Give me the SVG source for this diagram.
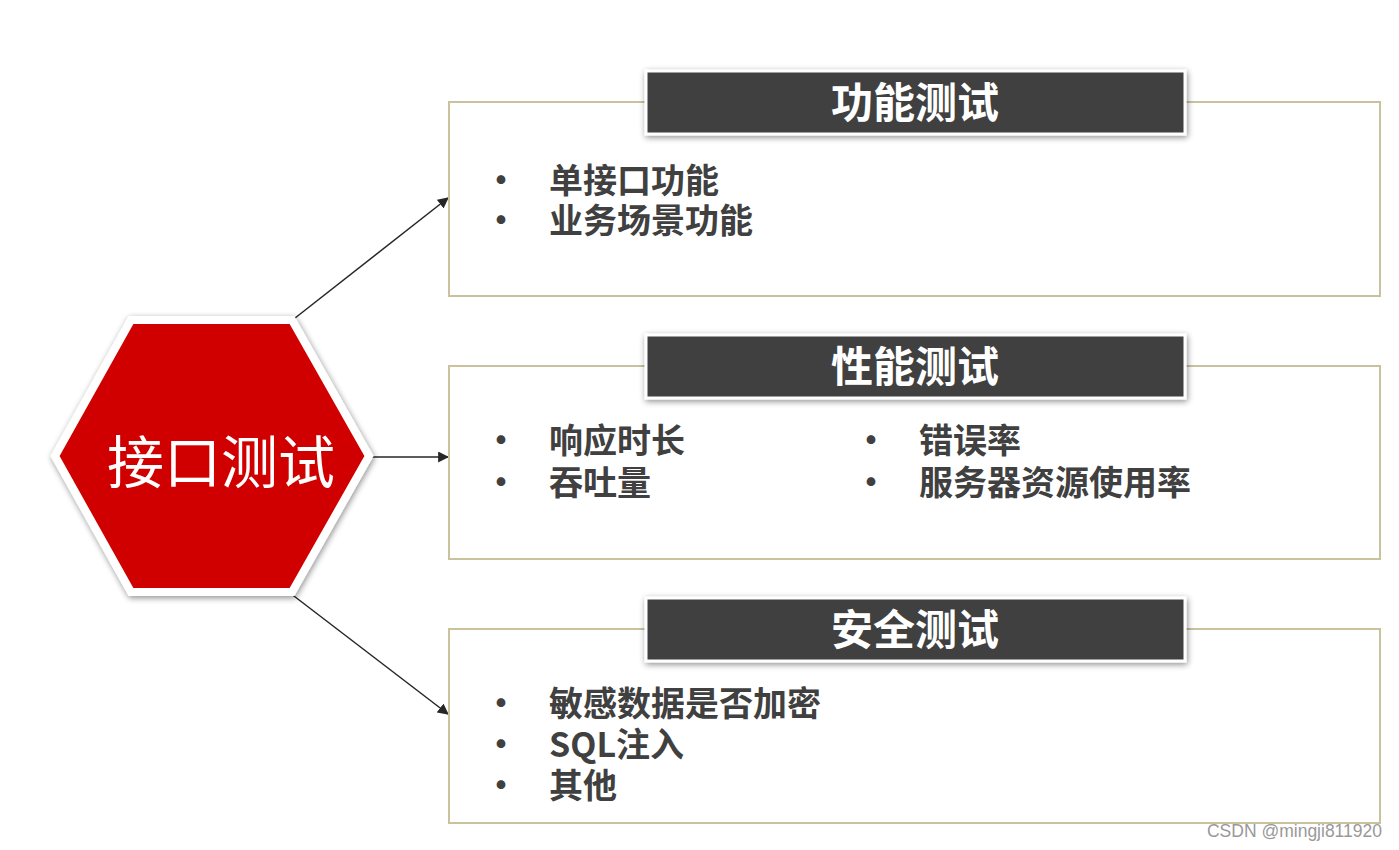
<svg xmlns="http://www.w3.org/2000/svg" width="1399" height="850" viewBox="0 0 1399 850">
<style>
.box{fill:#fff;stroke:#c9c29d;stroke-width:2}
.bar{fill:#404040;stroke:#fff;stroke-width:3}
.title{font-family:"Noto Sans CJK SC","Liberation Sans",sans-serif;font-size:42px;font-weight:bold;fill:#fff;text-anchor:middle;dominant-baseline:central}
.item{font-family:"Noto Sans CJK SC","Liberation Sans",sans-serif;font-size:34px;font-weight:bold;fill:#404040;dominant-baseline:central}
.conn{stroke:#262626;stroke-width:1.5;fill:none;marker-end:url(#arr)}
</style>
<defs>
<marker id="arr" viewBox="0 0 10 10" refX="9" refY="5" markerWidth="11" markerHeight="11" markerUnits="userSpaceOnUse" orient="auto"><path d="M0,0 L10,5 L0,10 z" fill="#262626"/></marker>
<filter id="sh" x="-10%" y="-20%" width="120%" height="140%"><feGaussianBlur in="SourceAlpha" stdDeviation="3"/><feOffset dx="1" dy="2"/><feComponentTransfer><feFuncA type="linear" slope="0.45"/></feComponentTransfer><feMerge><feMergeNode/><feMergeNode in="SourceGraphic"/></feMerge></filter>
</defs>
<rect width="1399" height="850" fill="#fff"/>
<g id="connectors">
<line class="conn" x1="290" y1="322" x2="448" y2="198"/>
<line class="conn" x1="368" y1="457" x2="448" y2="457"/>
<line class="conn" x1="290" y1="593" x2="448" y2="714"/>
</g>
<g id="hex">
<polygon points="131,320 292,320 369,456 292,592 131,592 55,456" fill="#d10000" stroke="#fff" stroke-width="8" stroke-linejoin="miter" filter="url(#sh)"/>
<text x="221" y="458" font-family="Noto Sans CJK SC,Liberation Sans,sans-serif" font-size="57" fill="#fff" text-anchor="middle" dominant-baseline="central">接口测试</text>
</g>
<g id="func">
<rect class="box" x="449" y="102" width="931" height="194"/>
<rect class="bar" x="646" y="71" width="539" height="63" filter="url(#sh)"/>
<text class="title" x="915" y="99">功能测试</text>
<text class="item"><tspan x="484" y="178">•</tspan><tspan x="549" y="178">单接口功能</tspan><tspan x="484" y="218">•</tspan><tspan x="549" y="218">业务场景功能</tspan></text>
</g>
<g id="perf">
<rect class="box" x="449" y="366" width="931" height="193"/>
<rect class="bar" x="646" y="335" width="539" height="63" filter="url(#sh)"/>
<text class="title" x="915" y="363">性能测试</text>
<text class="item"><tspan x="484" y="438">•</tspan><tspan x="549" y="438">响应时长</tspan><tspan x="484" y="480">•</tspan><tspan x="549" y="480">吞吐量</tspan></text>
<text class="item"><tspan x="854" y="438">•</tspan><tspan x="919" y="438">错误率</tspan><tspan x="854" y="480">•</tspan><tspan x="919" y="480">服务器资源使用率</tspan></text>
</g>
<g id="sec">
<rect class="box" x="449" y="629" width="931" height="194"/>
<rect class="bar" x="646" y="598" width="539" height="63" filter="url(#sh)"/>
<text class="title" x="915" y="626">安全测试</text>
<text class="item"><tspan x="484" y="701">•</tspan><tspan x="549" y="701">敏感数据是否加密</tspan><tspan x="484" y="742">•</tspan><tspan x="549" y="742">SQL注入</tspan><tspan x="484" y="783">•</tspan><tspan x="549" y="783">其他</tspan></text>
</g>
<text x="1382" y="831" font-family="Liberation Sans,sans-serif" font-size="17.5" fill="#999" text-anchor="end" dominant-baseline="central">CSDN @mingji811920</text>
</svg>
